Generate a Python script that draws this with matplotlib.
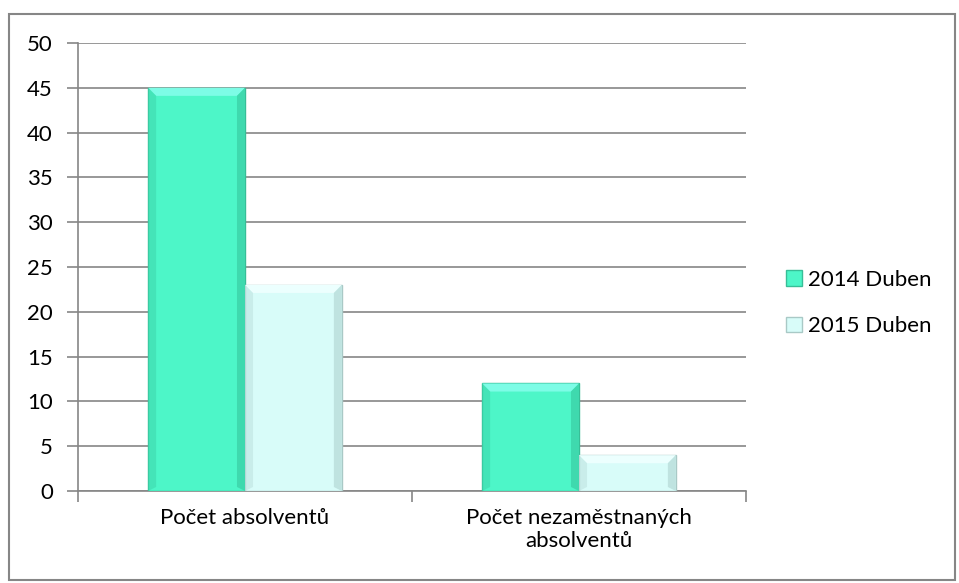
import matplotlib
matplotlib.use("Agg")
import matplotlib.pyplot as plt
import numpy as np
from matplotlib.patches import Rectangle, Polygon

categories = ["Počet absolventů", "Počet nezaměstnaných\nabsolventů"]
series_names = ["2014 Duben", "2015 Duben"]
values_2014 = [45, 12]
values_2015 = [23, 4]
yticks = [0, 5, 10, 15, 20, 25, 30, 35, 40, 45, 50]

face_colors = ["#4DF6C8", "#D8FCF9"]
top_colors = ["#7DFCE6", "#ECFFFE"]
side_colors = ["#3FD9AE", "#BFE3E0"]
edge_colors = ["#37BE97", "#A9C9C6"]
grid_color = "#868686"

plt.rcParams['font.family'] = ['Lato', 'DejaVu Sans']

fig = plt.figure(figsize=(9.59, 5.83), dpi=100)
ax = fig.add_axes([78 / 959, 1 - 491 / 583, 668 / 959, 448 / 583])

x = np.arange(len(categories))
width = 0.29
bx = 0.024   # bevel width in x (data units)
by = 0.9     # bevel height in y (data units)
all_vals = [values_2014, values_2015]
for i, vals in enumerate(all_vals):
    pos = x + (i - 0.5) * width
    ax.bar(pos, vals, width, color=face_colors[i], edgecolor=edge_colors[i],
           linewidth=1.0, label=series_names[i], zorder=3)
    for p, v in zip(pos, vals):
        l, r = p - width / 2, p + width / 2
        # top bevel
        ax.add_patch(Polygon([(l, v), (r, v), (r - bx, v - by), (l + bx, v - by)],
                             closed=True, facecolor=top_colors[i], linewidth=0, zorder=4))
        # right bevel
        ax.add_patch(Polygon([(r, v), (r, 0), (r - bx, by * 0.5), (r - bx, v - by)],
                             closed=True, facecolor=side_colors[i], linewidth=0, zorder=4))
        # left bevel
        ax.add_patch(Polygon([(l, v), (l, 0), (l + bx, by * 0.5), (l + bx, v - by)],
                             closed=True, facecolor=side_colors[i], alpha=0.6,
                             linewidth=0, zorder=4))

ax.set_xlim(-0.5, 1.5)
ax.set_ylim(0, 50)
ax.set_yticks(yticks)
ax.yaxis.grid(True, color=grid_color, linewidth=1.2, zorder=0)
ax.set_axisbelow(True)
ax.tick_params(axis='y', length=8, width=1.2, color=grid_color, labelsize=16, pad=10)

ax.set_xticks([-0.5, 0.5, 1.5])
ax.set_xticklabels([])
ax.set_xticks(x, minor=True)
ax.set_xticklabels(categories, minor=True, fontsize=16)
ax.tick_params(axis='x', which='major', length=8, width=1.2, color=grid_color)
ax.tick_params(axis='x', which='minor', length=0, pad=12)

for s in ['top', 'right']:
    ax.spines[s].set_visible(False)
for s in ['left', 'bottom']:
    ax.spines[s].set_color(grid_color)
    ax.spines[s].set_linewidth(1.2)

leg = ax.legend(loc='center left', bbox_to_anchor=(1.03, 0.42), frameon=False,
                fontsize=16, handlelength=0.7, handleheight=0.7, handletextpad=0.3,
                labelspacing=1.2)

# outer chart border
fig.patches.append(Rectangle((9 / 959, 3 / 583), 946 / 959, 566 / 583,
                             transform=fig.transFigure, fill=False,
                             edgecolor=grid_color, linewidth=1.5))

plt.savefig("out.png", dpi=100)
